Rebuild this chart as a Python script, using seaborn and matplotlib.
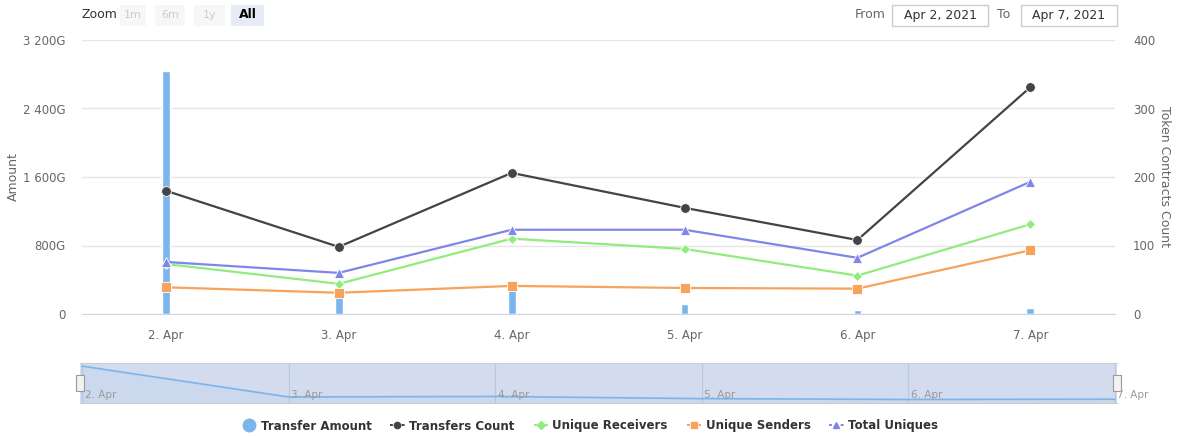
import numpy as np
import pandas as pd
import matplotlib
matplotlib.use("Agg")
import matplotlib.pyplot as plt
from matplotlib.lines import Line2D
from matplotlib.patches import Rectangle
import seaborn as sns

# data
days = ["2. Apr", "3. Apr", "4. Apr", "5. Apr", "6. Apr", "7. Apr"]
transfer_amount = [2838, 257, 300, 117, 47, 70]      # in G, left axis
transfers_count = [180, 98, 206, 155, 108, 331]       # right axis
unique_receivers = [73, 44, 110, 95, 56, 131]
unique_senders = [39, 31, 41, 38, 37, 93]
total_uniques = [76, 60, 123, 123, 82, 193]

sns.set_style("white")
plt.rcParams["font.family"] = ["DejaVu Sans"]

idx = np.arange(len(days))
grey = "#666666"

fig = plt.figure(figsize=(11.8, 4.37), dpi=100)
W, H = 1180, 437
def fx(px): return px / W
def fy(py): return 1 - py / H

ax = fig.add_axes([fx(82), fy(314), fx(1115) - fx(82), fy(40) - fy(314)])
sns.barplot(x=idx, y=transfer_amount, native_scale=True, width=0.045,
            color="#7cb5ec", saturation=1, ax=ax, zorder=2)
ax.set_xlim(-0.485, 5.49)
ax.set_ylim(0, 3200)
ax.set_yticks([0, 800, 1600, 2400, 3200])
ax.set_yticklabels(["0", "800G", "1 600G", "2 400G", "3 200G"])
ax.set_xticks(idx)
ax.set_xticklabels(days)
ax.grid(axis="y", color="#e6e6e6", lw=1)
ax.set_axisbelow(True)
for s in ["top", "right", "left"]:
    ax.spines[s].set_visible(False)
ax.spines["bottom"].set_color("#ccd6eb")
ax.tick_params(axis="x", colors="#ccd6eb", length=7, width=1, pad=4,
               labelcolor=grey, labelsize=8.5)
ax.tick_params(axis="y", length=0, pad=12, labelcolor=grey, labelsize=8.5)
ax.set_xlabel("")
ax.set_ylabel("Amount", color=grey, fontsize=9)
ax.yaxis.set_label_coords(-0.06, 0.5)

ax2 = ax.twinx()
series = [
    ("Transfers Count", transfers_count, "#434348", "o", 7),
    ("Unique Receivers", unique_receivers, "#90ed7d", "D", 5),
    ("Unique Senders", unique_senders, "#f7a35c", "s", 7),
    ("Total Uniques", total_uniques, "#8085e9", "^", 7),
]
for name, vals, col, mk, ms in series:
    sns.lineplot(x=idx, y=vals, color=col, marker=mk, markersize=ms,
                 markeredgecolor="white", markeredgewidth=0.6, lw=1.6, ax=ax2)
ax2.set_ylim(0, 400)
ax2.set_yticks([0, 100, 200, 300, 400])
for s in ["top", "right", "left", "bottom"]:
    ax2.spines[s].set_visible(False)
ax2.tick_params(axis="y", length=0, pad=13, labelcolor=grey, labelsize=8.5)
ax2.set_ylabel("Token Contracts Count", color=grey, fontsize=9, rotation=270,
               va="center")
ax2.yaxis.set_label_coords(1.0475, 0.5)

# navigator
nav = fig.add_axes([fx(80), fy(403), fx(1117) - fx(80), fy(363) - fy(403)])
nav.set_facecolor("#d3dbee")
sns.lineplot(x=idx, y=transfer_amount, color="#7cb5ec", lw=1.2, ax=nav)
nav.fill_between(idx, transfer_amount, -250, color="#7cb5ec", alpha=0.08)
nav.set_xlim(-0.01, 5.01)
nav.set_ylim(-250, 3100)
nav.set_xticks([])
nav.set_yticks([])
for i, d in enumerate(days):
    nav.axvline(i, color="#bcc6dc", lw=0.8, zorder=0)
    nav.text(i + 0.012, 0.2, d, transform=nav.get_xaxis_transform(),
             ha="left", va="center", fontsize=7.5, color="#999999", clip_on=False)
for s in ["left", "right"]:
    nav.spines[s].set_visible(False)
for s in ["top", "bottom"]:
    nav.spines[s].set_color("#cccccc")
for hx in [80, 1117]:
    fig.add_artist(Rectangle((fx(hx - 4), fy(391)), fx(8), fy(375) - fy(391),
                             transform=fig.transFigure, facecolor="#f2f2f2",
                             edgecolor="#999999", lw=0.8))

# range selector buttons
fig.text(fx(82), fy(15), "Zoom", fontsize=9, color="#333333", va="center")
for lab, x0, w in [("1m", 120, 26), ("6m", 155, 30), ("1y", 194, 31)]:
    fig.add_artist(Rectangle((fx(x0), fy(26)), fx(w), fy(5) - fy(26),
                             transform=fig.transFigure, facecolor="#f7f7f7", edgecolor="none"))
    fig.text(fx(x0 + w / 2), fy(15), lab, fontsize=8, color="#cccccc",
             ha="center", va="center")
fig.add_artist(Rectangle((fx(231), fy(26)), fx(33), fy(5) - fy(26),
                         transform=fig.transFigure, facecolor="#e6ebf5", edgecolor="none"))
fig.text(fx(247.5), fy(15), "All", fontsize=9, color="#000000", ha="center",
         va="center", fontweight="bold")

# date inputs
fig.text(fx(855), fy(15), "From", fontsize=9, color="#666666", va="center")
fig.text(fx(997), fy(15), "To", fontsize=9, color="#666666", va="center")
for x0, lab in [(892, "Apr 2, 2021"), (1021, "Apr 7, 2021")]:
    fig.add_artist(Rectangle((fx(x0), fy(26)), fx(96), fy(5) - fy(26),
                             transform=fig.transFigure, facecolor="white",
                             edgecolor="#cccccc", lw=1))
    fig.text(fx(x0 + 48), fy(15), lab, fontsize=9, color="#333333",
             ha="center", va="center")

# legend
handles = [Line2D([], [], ls="none", marker="o", color="#7cb5ec", markersize=9)]
labels = ["Transfer Amount"]
for name, vals, col, mk, ms in series:
    handles.append(Line2D([], [], color=col, marker=mk, markersize=4.5, lw=1.4,
                          ls=(0, (1.5, 1.5))))
    labels.append(name)
fig.legend(handles, labels, loc="center", bbox_to_anchor=(0.5, fy(426)),
           ncol=5, frameon=False, handlelength=1.2, columnspacing=1.6,
           handletextpad=0.4, prop={"size": 8.5, "weight": "bold"},
           labelcolor="#333333")

fig.savefig("out.png", dpi=100)
